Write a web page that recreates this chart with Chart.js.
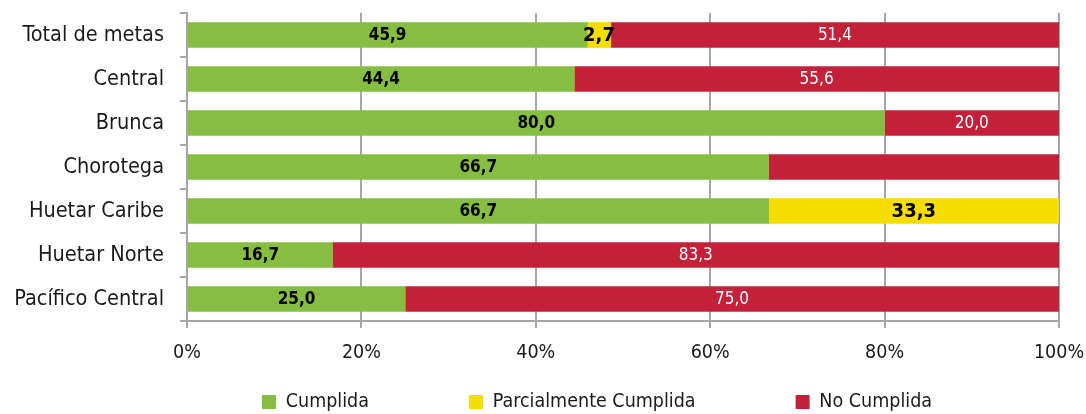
<!DOCTYPE html>
<html>
<head>
<meta charset="utf-8">
<script src="https://cdn.jsdelivr.net/npm/chart.js@4.4.0/dist/chart.umd.min.js"></script>
<style>
  html, body { margin: 0; padding: 0; background: #fff; }
  #wrap { width: 1086px; height: 414px; }
</style>
</head>
<body>
<div id="wrap"><canvas id="metas-chart"></canvas></div>
<script>
const categories = ["Total de metas", "Central", "Brunca", "Chorotega",
    "Huetar Caribe", "Huetar Norte", "Pacífico Central"];
const cumplida = [45.9, 44.4, 80.0, 66.7, 66.7, 16.7, 25.0];
const parcial = [2.7, 0, 0, 0, 33.3, 0, 0];
const noCumplida = [51.4, 55.6, 20.0, 33.3, 0, 83.3, 75.0];
const hiddenRedLabels = ["Chorotega"];
const xTicks = [0, 20, 40, 60, 80, 100];

const FONT = "'Liberation Sans Narrow', 'Arial Narrow', 'DejaVu Sans Condensed', sans-serif";
const TEXT = '#1a1a1a';
const GRID = '#a6a6a6';
const LEGEND_GAP = 100;

// how each series writes its numbers inside the bars
const labelStyles = [
    { font: 'bold 17px ' + FONT, color: '#000' },
    { font: 'bold 20px ' + FONT, color: '#000' },
    { font: '17px ' + FONT, color: '#fff' }
];

const valueLabels = {
    id: 'valueLabels',
    afterDatasetsDraw(chart) {
        const ctx = chart.ctx;
        ctx.save();
        ctx.textAlign = 'center';
        ctx.textBaseline = 'middle';
        chart.data.datasets.forEach((ds, i) => {
            const meta = chart.getDatasetMeta(i);
            meta.data.forEach((bar, j) => {
                const v = ds.data[j];
                if (!v) return;
                if (i === 2 && hiddenRedLabels.includes(categories[j])) return;
                const p = bar.getProps(['x', 'y', 'base'], true);
                ctx.font = labelStyles[i].font;
                ctx.fillStyle = labelStyles[i].color;
                ctx.fillText(v.toFixed(1).replace('.', ','), (p.x + p.base) / 2, p.y + 1);
            });
        });
        ctx.restore();
    }
};

// legend row sits low with wide gaps, like the original
const legendPlacement = {
    id: 'legendPlacement',
    afterLayout(chart) {
        const lg = chart.legend;
        const size = lg.options.labels.font.size;
        lg.left = 262 - LEGEND_GAP;
        lg.right = chart.width;
        lg.top = 402 - LEGEND_GAP - size / 2;
        lg.bottom = chart.height;
    }
};

const metasCanvas = document.getElementById("metas-chart").getContext("2d");

let metasChart = new Chart(metasCanvas, {
    type: 'bar',
    data: {
        labels: categories,
        datasets: [{
            label: 'Cumplida',
            data: cumplida,
            backgroundColor: '#86be42'
        }, {
            label: 'Parcialmente Cumplida',
            data: parcial,
            backgroundColor: '#f6dd00'
        }, {
            label: 'No Cumplida',
            data: noCumplida,
            backgroundColor: '#c3203a'
        }]
    },
    options: {
        indexAxis: 'y',
        responsive: true,
        maintainAspectRatio: false,
        animation: false,
        barThickness: 25,
        layout: {
            padding: { top: 13, right: 27, left: 0, bottom: 0 }
        },
        scales: {
            x: {
                stacked: true,
                min: 0,
                max: 100,
                afterBuildTicks: s => { s.ticks = xTicks.map(v => ({ value: v })); },
                afterFit: s => { s.height = 48; s.paddingLeft = 0; s.paddingRight = 0; },
                grid: { color: GRID, lineWidth: 2, tickLength: 7 },
                border: { color: GRID, width: 2 },
                ticks: {
                    padding: 13,
                    color: TEXT,
                    font: { family: FONT, size: 19.5 },
                    callback: v => v + '%'
                }
            },
            y: {
                stacked: true,
                afterFit: s => { s.width = 187; s.paddingTop = 0; s.paddingBottom = 0; },
                grid: { drawOnChartArea: false, color: GRID, lineWidth: 2, tickLength: 7 },
                border: { color: GRID, width: 2 },
                ticks: {
                    padding: 16,
                    color: TEXT,
                    font: { family: FONT, size: 21.5 }
                }
            }
        },
        plugins: {
            legend: {
                position: 'bottom',
                align: 'start',
                maxHeight: 45,
                labels: {
                    boxWidth: 14,
                    boxHeight: 14,
                    padding: LEGEND_GAP,
                    color: TEXT,
                    font: { family: FONT, size: 19.5 }
                }
            },
            tooltip: { enabled: false }
        }
    },
    plugins: [valueLabels, legendPlacement]
});
</script>
</body>
</html>
